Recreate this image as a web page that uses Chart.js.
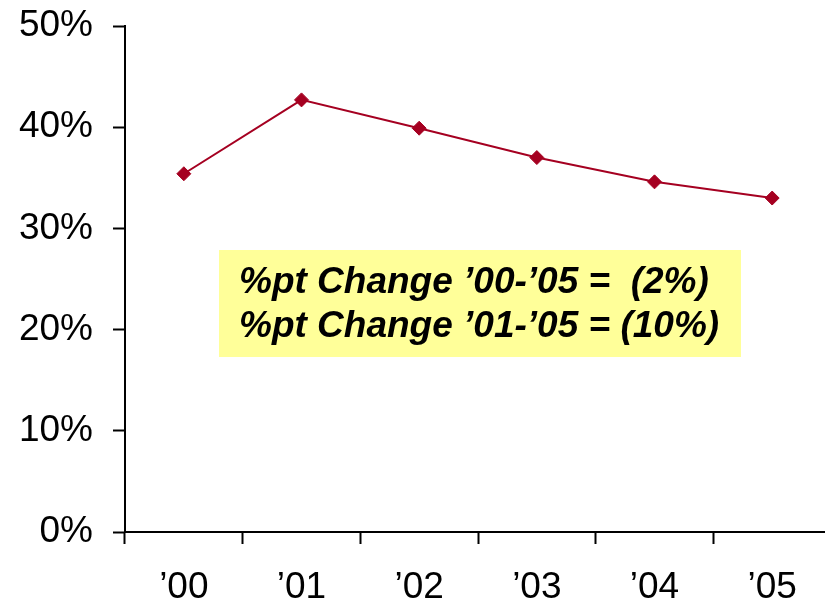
<!DOCTYPE html>
<html>
<head>
<meta charset="utf-8">
<script src="https://cdn.jsdelivr.net/npm/chart.js@4"></script>
<style>
  html, body { margin: 0; padding: 0; background: #fff; overflow: hidden; }
</style>
</head>
<body>
<canvas id="c1" width="831" height="603"></canvas>
<script>
// data
var years = ['\u201900', '\u201901', '\u201902', '\u201903', '\u201904', '\u201905'];
var share = [35.4, 42.7, 39.9, 37.0, 34.6, 33.0];
var yTicks = [0, 10, 20, 30, 40, 50];
var noteLines = ['%pt Change \u201900-\u201905 =  (2%)', '%pt Change \u201901-\u201905 = (10%)'];

var red = '#A50021';

// yellow call-out box
var noteBox = {
    id: 'noteBox',
    afterDatasetsDraw: function(chart) {
        var ctx = chart.ctx;
        var a = chart.chartArea;
        var x0 = a.left + 94, y0 = a.top + 224;
        ctx.save();
        ctx.fillStyle = '#FFFF99';
        ctx.fillRect(x0, y0, 522, 107);
        ctx.fillStyle = '#000';
        ctx.font = 'italic bold 37px "Liberation Sans", Arial, sans-serif';
        ctx.textAlign = 'left';
        ctx.textBaseline = 'middle';
        for (var i = 0; i < noteLines.length; i++) {
            ctx.fillText(noteLines[i], x0 + 20, y0 + 33 + i * 44);
        }
        ctx.restore();
    }
};

var ctx1 = document.getElementById('c1');
var chart = new Chart(ctx1, {
    type: 'line',
    data: {
        labels: years,
        datasets: [{
            data: share,
            borderColor: red,
            backgroundColor: red,
            borderWidth: 2,
            pointStyle: 'rectRot',
            pointRadius: 7,
            pointBorderWidth: 1,
            tension: 0
        }]
    },
    options: {
        responsive: false,
        animation: false,
        layout: { autoPadding: false, padding: { top: 26, right: 0, left: 0, bottom: 0 } },
        plugins: {
            legend: { display: false },
            title: { display: false },
            tooltip: { enabled: false }
        },
        scales: {
            x: {
                offset: true,
                grid: { display: true, offset: true, drawOnChartArea: false, tickLength: 12, tickColor: '#000', tickWidth: 2 },
                border: { color: '#000', width: 2 },
                ticks: { color: '#000', padding: 22, maxRotation: 0, font: { family: '"Liberation Sans", Arial, sans-serif', size: 37 } },
                afterFit: function(s) { s.height = 71; s.paddingLeft = 0; s.paddingRight = 0; }
            },
            y: {
                min: 0,
                max: 50,
                afterBuildTicks: function(s) { s.ticks = yTicks.map(function(v) { return { value: v }; }); },
                grid: { display: true, drawOnChartArea: false, tickLength: 12, tickColor: '#000', tickWidth: 2 },
                border: { color: '#000', width: 2 },
                ticks: {
                    color: '#000',
                    padding: 20,
                    font: { family: '"Liberation Sans", Arial, sans-serif', size: 37 },
                    callback: function(v) { return v + '%'; }
                },
                afterFit: function(s) { s.width = 125; s.paddingTop = 0; s.paddingBottom = 0; }
            }
        }
    },
    plugins: [noteBox]
});
</script>
</body>
</html>
